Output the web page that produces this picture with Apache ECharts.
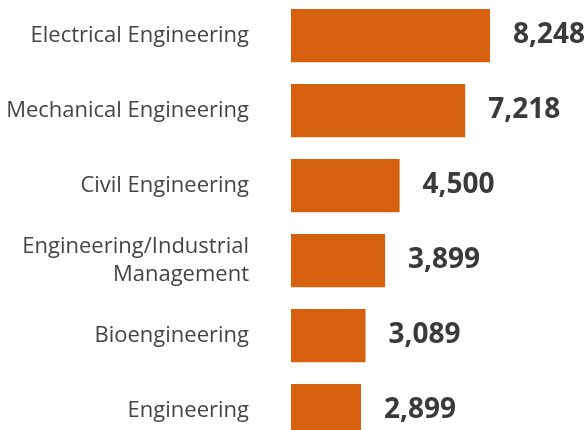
<!DOCTYPE html>
<html><head><meta charset="utf-8">
<script src="https://cdn.jsdelivr.net/npm/echarts@6/dist/echarts.min.js"></script>
<style>html,body{margin:0;padding:0;background:#fff}#c{width:586px;height:430px}</style>
</head><body><div id="c"></div>
<script>
const categories = ["Electrical Engineering","Mechanical Engineering","Civil Engineering","Engineering/Industrial\nManagement","Bioengineering","Engineering"];
const values = [8248,7218,4500,3899,3089,2899];
const chart = echarts.init(document.getElementById('c'));
chart.setOption({
  animation:false,
  grid:{left:291,top:-2,width:290,height:450,containLabel:false,outerBoundsMode:'none'},
  xAxis:{type:'value',min:0,max:12018,show:false},
  yAxis:{type:'category',data:categories,inverse:true,
    axisLine:{show:false},axisTick:{show:false},
    axisLabel:{margin:42,fontFamily:'Open Sans',fontSize:22,color:'#444',lineHeight:28,align:'right'}},
  series:[{type:'bar',data:values,barCategoryGap:'29%',
    itemStyle:{color:'#D5610F'},
    label:{show:true,position:'right',distance:23,fontFamily:'Open Sans',fontWeight:'bold',fontSize:28,color:'#3a3a3a',
      formatter:p=>p.value.toLocaleString('en-US')}}]
});
</script></body></html>
